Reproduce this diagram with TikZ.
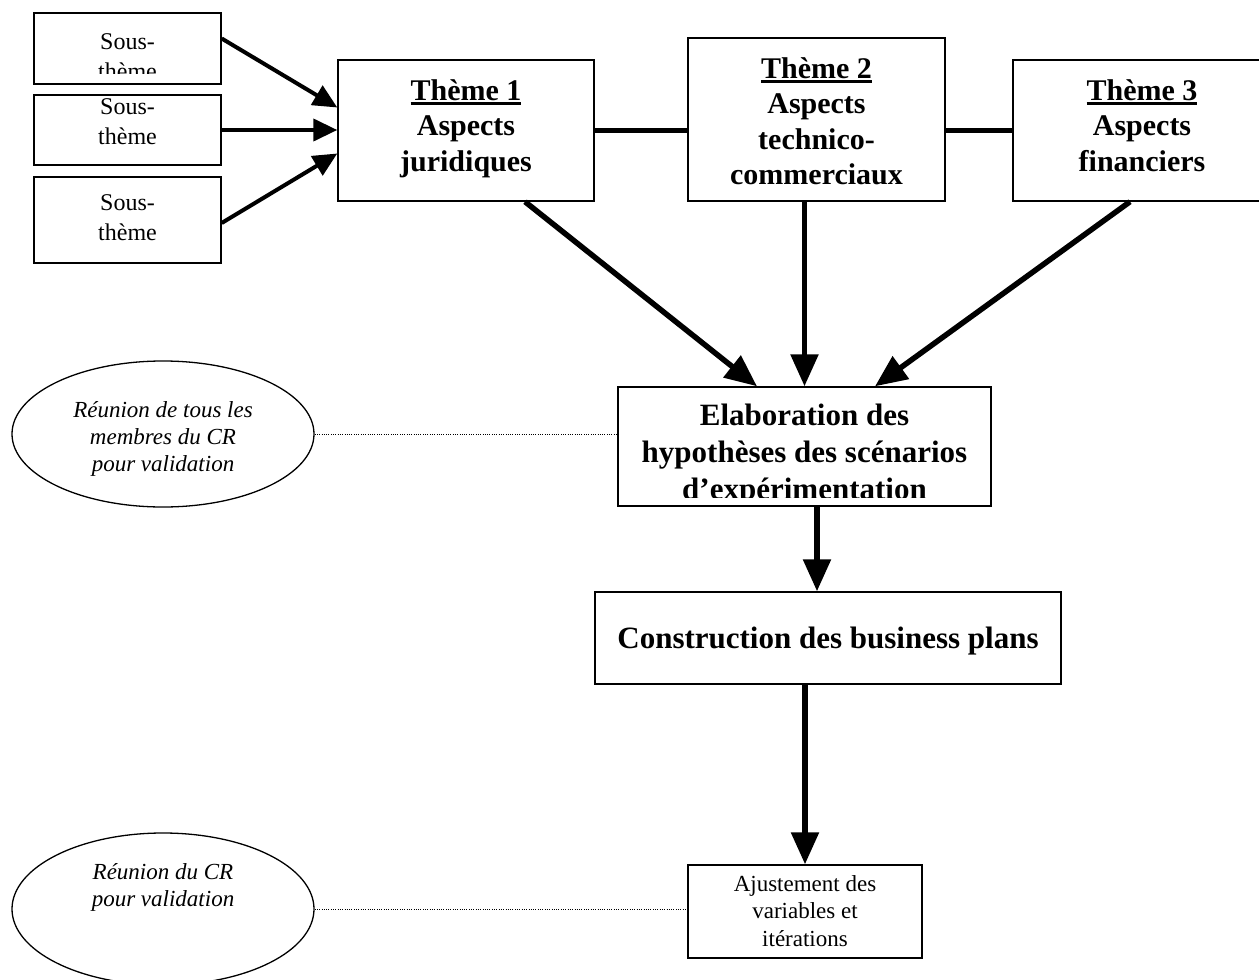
\documentclass[tikz,border=0pt]{standalone}
\usepackage{fontspec}
\setmainfont{Liberation Serif}
\usetikzlibrary{arrows.meta,calc,shapes.geometric}
\newcommand\thmul[1]{\leavevmode\setbox0=\hbox{#1}\rlap{\rule[-4.5pt]{\wd0}{2.6pt}}\box0}
\tikzset{
  box/.style={draw, line width=1.4pt, inner sep=0pt},
  oval/.style={draw, ellipse, line width=1.3pt, inner sep=0pt},
  conn/.style={line width=5.5pt},
  bigarrow/.style={line width=5.5pt, -{Triangle[length=32pt,width=27pt]}},
  smallarrow/.style={line width=4pt, -{Triangle[length=24pt,width=22pt]}},
  dotline/.style={line width=0.9pt, dash pattern=on 1pt off 1.3pt},
  regtxt/.style={font=\fontsize{24}{30}\selectfont, align=center, inner sep=0pt},
  boldtxt/.style={font=\fontsize{31}{37}\selectfont\bfseries, align=center, inner sep=0pt},
  thmtxt/.style={font=\fontsize{30}{35.5}\selectfont\bfseries, align=center, inner sep=0pt},
  smalltxt/.style={font=\fontsize{23}{27.5}\selectfont, align=center, inner sep=0pt},
  itxt/.style={font=\fontsize{23}{27}\selectfont\itshape, align=center, inner sep=0pt},
}
\begin{document}
\begin{tikzpicture}[x=1pt,y=-1pt]
\clip (0,0) rectangle (1259,980);
\fill[white] (0,0) rectangle (1259,980);

% sub-theme boxes
\node[box, minimum width=187pt, minimum height=71pt] (s1) at (127.5,48.5) {};
\node[box, minimum width=187pt, minimum height=70pt] (s2) at (127.5,130) {};
\node[box, minimum width=187pt, minimum height=86pt] (s3) at (127.5,220) {};
\begin{scope}
  \clip (34,13) rectangle (221,73);
  \node[regtxt, anchor=north] (s1t) at (127.5,33.5) {Sous-\\thème};
\end{scope}
\begin{scope}
  \clip (34,95) rectangle (221,144);
  \node[regtxt, anchor=north] (s2t) at (127.5,98.5) {Sous-\\thème};
\end{scope}
\node[regtxt, anchor=north] (s3t) at (127.5,194.5) {Sous-\\thème};

% theme boxes
\node[box, minimum width=256pt, minimum height=141pt] (t1) at (466,130.5) {};
\node[box, minimum width=257pt, minimum height=163pt] (t2) at (816.5,119.5) {};
\node[box, minimum width=258pt, minimum height=141pt] (t3) at (1142,130.5) {};
\node[thmtxt, anchor=north] (t1t) at (466,79) {\thmul{Thème 1}\\Aspects\\juridiques};
\node[thmtxt, anchor=north] (t2t) at (816.5,57) {\thmul{Thème 2}\\Aspects\\technico-\\commerciaux};
\node[thmtxt, anchor=north] (t3t) at (1142,79) {\thmul{Thème 3}\\Aspects\\financiers};

% elaboration
\node[box, minimum width=373pt, minimum height=119pt] (elab) at (804.5,446.5) {};
\begin{scope}
  \clip (618,387) rectangle (991,497);
  \node[boldtxt, anchor=north] (elabt) at (804.5,404) {Elaboration des\\hypothèses des scénarios\\d’expérimentation};
\end{scope}

% construction
\node[box, minimum width=466pt, minimum height=92pt] (cons) at (828,638) {};
\node[boldtxt, anchor=base] (const) at (828,648) {Construction des business plans};

% ajustement
\node[box, minimum width=234pt, minimum height=93pt] (ajus) at (805,911.5) {};
\node[smalltxt, anchor=north] (ajust) at (805,875) {Ajustement des\\variables et\\itérations};

% ellipses
\node[oval, minimum width=302pt, minimum height=146pt] (e1) at (163,434) {};
\node[itxt, anchor=north] (e1t) at (163,401) {Réunion de tous les\\membres du CR\\pour validation};
\node[oval, minimum width=302pt, minimum height=152pt] (e2) at (163,909) {};
\node[itxt, anchor=north] (e2t) at (163,863) {Réunion du CR\\pour validation};

% connectors
\draw[smallarrow] ([yshift=10pt]s1.east) -- ([yshift=23pt]t1.west);
\draw[smallarrow] (s2.east) -- (s2.east -| t1.west);
\draw[smallarrow] ([yshift=-3pt]s3.east) -- ([yshift=-23pt]t1.west);
\draw[conn] (t1.east) -- (t1.east -| t2.west);
\draw[conn] (t3.west -| t2.east) -- (t3.west);
\draw[bigarrow] ([xshift=59pt]t1.south) -- ([xshift=-47.5pt]elab.north);
\draw[bigarrow] (t2.south -| elab.north) -- (elab.north);
\draw[bigarrow] ([xshift=-12pt]t3.south) -- ([xshift=70.5pt]elab.north);
\draw[bigarrow] ([xshift=12.5pt]elab.south) -- ([xshift=12.5pt]elab.south |- cons.north);
\draw[bigarrow] ([xshift=-23pt]cons.south) -- (ajus.north);
\draw[dotline] (e1.east) -- (e1.east -| elab.west);
\draw[dotline] (e2.east) -- (e2.east -| ajus.west);
\end{tikzpicture}
\end{document}
